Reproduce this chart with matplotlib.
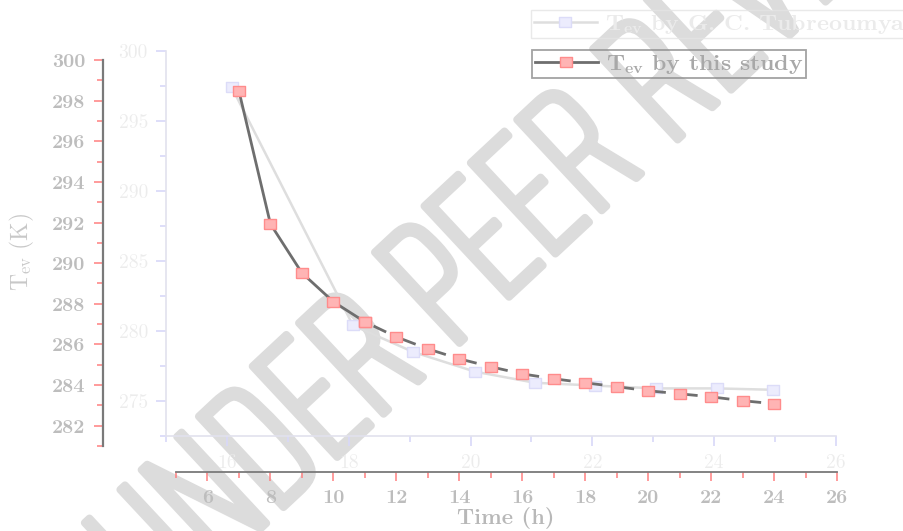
import matplotlib
matplotlib.use("Agg")
import matplotlib.pyplot as plt
import matplotlib.patheffects as pe
from matplotlib.ticker import MultipleLocator, FuncFormatter
from matplotlib.font_manager import FontProperties

LM = 'Latin Modern Roman'
plt.rcParams['mathtext.fontset'] = 'custom'
plt.rcParams['mathtext.rm'] = LM
plt.rcParams['mathtext.bf'] = LM + ':bold'
plt.rcParams['mathtext.it'] = LM + ':italic'
plt.rcParams['axes.unicode_minus'] = False

# T_ev by this study
time_study = [7, 8, 9, 10, 11, 12, 13, 14, 15, 16, 17, 18, 19, 20, 21, 22, 23, 24]
tev_study = [298.47, 291.93, 289.52, 288.10, 287.11, 286.37, 285.78, 285.29, 284.90,
             284.55, 284.31, 284.11, 283.92, 283.72, 283.57, 283.42, 283.23, 283.08]

# T_ev by G. C. Tubreoumya (other x/y scale)
time_ref = [16.08, 18.07, 19.06, 20.07, 21.06, 22.05, 23.04, 24.04, 24.97]
tev_ref = [297.4, 280.4, 278.5, 277.1, 276.3, 276.1, 275.9, 275.9, 275.8]

label_study = r'$\mathbf{T_{ev}}$ by this study'
# trailing no-break spaces: the box runs past the right edge like in the original
label_ref = r'$\mathbf{T_{ev}}$ by G. C. Tubreoumya' + '\u00a0\u00a0\u00a0'

W, H = 904, 531
fig = plt.figure(figsize=(W / 100, H / 100), dpi=100)

rect = [(-1.3, -1), (1.3, -1), (1.3, 1), (-1.3, 1), (-1.3, -1)]

# watermark behind everything
fig.text(525 / W, 1 - 213 / H, 'UNDER PEER REVIEW', rotation=43, rotation_mode='anchor',
         ha='center', va='center', fontsize=130, color='#dcdcdc',
         family=['Saira ExtraCondensed', 'Barlow Condensed', 'DejaVu Sans'], fontweight=250,
         zorder=-5,
         path_effects=[pe.Stroke(linewidth=5.5, foreground='#dcdcdc', joinstyle='round',
                                 capstyle='round'), pe.Normal()])

# ---- light axes (reference data)
ax2 = fig.add_axes([166 / W, 1 - 436 / H, (836 - 166) / W, (436 - 51) / H])
ax2.patch.set_visible(False)
l_ref, = ax2.plot(time_ref, tev_ref, color='#dedede', lw=1.8, marker=rect, ms=8.6,
                  mfc='#ececfd', mec='#dcdcf8', mew=1)
ax2.set_xlim(15, 26)
ax2.set_ylim(272.5, 300)
ax2.xaxis.set_major_locator(MultipleLocator(2))
ax2.xaxis.set_minor_locator(MultipleLocator(1))
ax2.yaxis.set_major_locator(MultipleLocator(5))
ax2.yaxis.set_minor_locator(MultipleLocator(2.5))
for s in ['top', 'right']:
    ax2.spines[s].set_visible(False)
for s in ['left', 'bottom']:
    ax2.spines[s].set_color('#e2e2ee')
    ax2.spines[s].set_linewidth(1.2)
ax2.tick_params(which='both', direction='out', color='#d8d8f8', width=1.2,
                labelcolor='#ececec', labelsize=14, labelfontfamily=LM)
ax2.tick_params(which='major', length=7, pad=6)
ax2.tick_params(which='minor', length=4)
ax2.xaxis.set_major_formatter(FuncFormatter(lambda v, p: f'{v:g}'))
ax2.yaxis.set_major_formatter(FuncFormatter(lambda v, p: f'{v:g}'))

# ---- dark axes (this study)
ax1 = fig.add_axes([176 / W, 1 - 446 / H, (837 - 176) / W, (446 - 60) / H])
ax1.patch.set_visible(False)
n_solid = 5
l_study, = ax1.plot(time_study[:n_solid], tev_study[:n_solid], color='#6e6e6e', lw=2.0,
                    marker=rect, ms=8.6, mfc='#ffb4b4', mec='#ff8c8c', mew=1, zorder=3)
ax1.plot(time_study[n_solid - 1:], tev_study[n_solid - 1:], color='#6e6e6e', lw=2.0,
         linestyle=(8, (5.0, 6.5)), marker=rect, ms=8.6, mfc='#ffb4b4', mec='#ff8c8c',
         mew=1, zorder=3)
ax1.set_xlim(5, 26)
ax1.set_ylim(281, 300)
ax1.xaxis.set_major_locator(MultipleLocator(2))
ax1.xaxis.set_minor_locator(MultipleLocator(1))
ax1.yaxis.set_major_locator(MultipleLocator(2))
ax1.yaxis.set_minor_locator(MultipleLocator(1))
for s in ['top', 'right']:
    ax1.spines[s].set_visible(False)
ax1.spines['left'].set_position(('outward', 73 * 0.72))
ax1.spines['bottom'].set_position(('outward', 26 * 0.72))
ax1.spines['left'].set_color('#7a7a7a')
ax1.spines['left'].set_linewidth(1.6)
ax1.spines['bottom'].set_color('#7a7a7a')
ax1.spines['bottom'].set_linewidth(1.3)
ax1.tick_params(which='both', direction='out', color='#ff8080', width=1.1,
                labelcolor='#bdbdbd', labelsize=14)
ax1.tick_params(which='major', length=6.5, pad=6)
ax1.tick_params(which='minor', length=4)
ax1.xaxis.set_major_formatter(FuncFormatter(lambda v, p: f'{v:g}'))
ax1.yaxis.set_major_formatter(FuncFormatter(lambda v, p: f'{v:g}'))
for lbl in ax1.get_xticklabels() + ax1.get_yticklabels():
    lbl.set_fontproperties(FontProperties(family=LM, weight='bold', size=14))

fig.text(22 / W, 1 - 252 / H, r'T$_{\rm ev}$ (K)', rotation=90, ha='center', va='center',
         fontsize=17, color='#c8c8c8', family=LM)
fig.text(506 / W, 1 - 518 / H, 'Time (h)', ha='center', va='center',
         fontsize=15.5, color='#b8b8b8', family=LM, fontweight='bold')

# legends
leg_font = FontProperties(family=LM, weight='bold', size=16.3)
leg1 = fig.legend(handles=[l_ref], labels=[label_ref], loc='upper left',
                  bbox_to_anchor=(531 / W, 1 - 10 / H), borderaxespad=0, prop=leg_font,
                  fancybox=False, edgecolor='#e4e4e4', labelcolor='#ebebeb',
                  handlelength=2.8, handletextpad=0.35, borderpad=0.12, numpoints=1)
leg1.get_frame().set_facecolor('none')
leg1.get_frame().set_linewidth(1.0)
leg2 = fig.legend(handles=[l_study], labels=[label_study], loc='upper left',
                  bbox_to_anchor=(532 / W, 1 - 50 / H), borderaxespad=0, prop=leg_font,
                  fancybox=False, edgecolor='#8c8c8c', labelcolor='#a8a8a8',
                  handlelength=2.8, handletextpad=0.35, borderpad=0.12, numpoints=1)
leg2.get_frame().set_facecolor('none')
leg2.get_frame().set_linewidth(1.3)

fig.savefig('out.png', dpi=100)
